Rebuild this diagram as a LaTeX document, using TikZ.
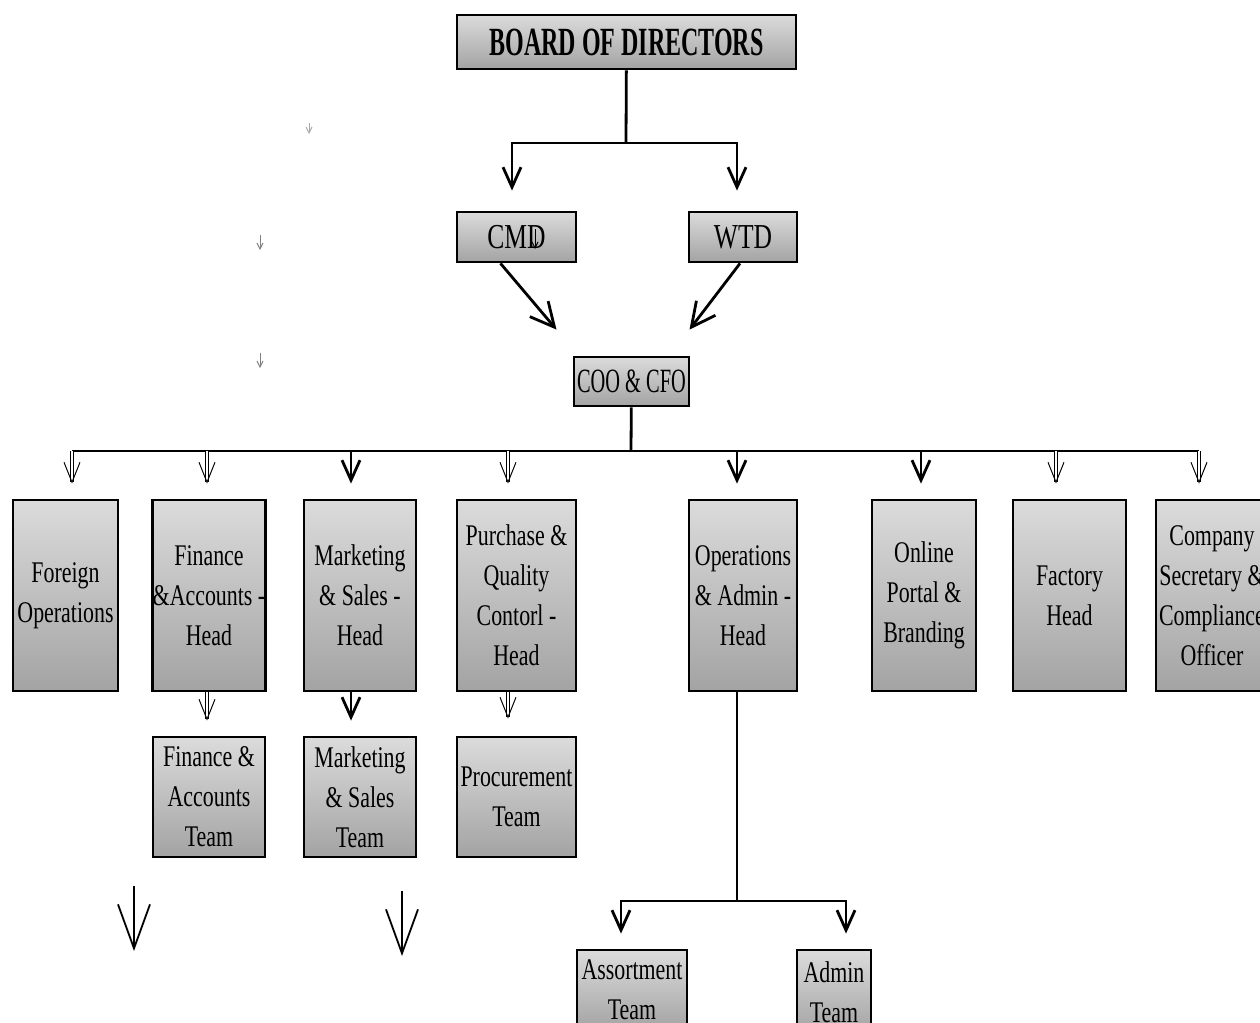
\documentclass[tikz,border=0pt]{standalone}
\usepackage{fontspec}
\setmainfont{Liberation Serif}[FakeStretch=0.73]
\newfontfamily\narrowfont{Liberation Serif}[FakeStretch=0.6]
\usetikzlibrary{arrows.meta,calc}

\begin{document}
\begin{tikzpicture}[x=0.5pt,y=-0.5pt,>={Straight Barb[length=10pt,width=9pt]},
        box/.style={draw=black,line width=1.4pt,top color=gray!28,bottom color=gray!72,
                    align=center,inner sep=0pt,font=\fontsize{15}{20}\selectfont},
        ln/.style={line width=1.4pt},
        ar/.style={->,line width=1.4pt},
        big/.style={-{Straight Barb[length=12pt,width=12pt]},line width=1.4pt},
        hl/.style={-{Straight Barb[length=10pt,width=8pt]},double,double distance=1pt,line width=0.5pt},
        stray/.style={-{Straight Barb[length=22pt,width=16pt]},line width=0.9pt},
        speck/.style={-{Straight Barb[length=3pt,width=3pt]},line width=0.5pt}]
        \useasboundingbox (0,0) rectangle (1260,1023);
        % top of the chart
        \node[box,minimum width=169.5pt,minimum height=27pt,font=\narrowfont\fontsize{20}{24}\selectfont\bfseries]
              (board) at (626.5,42) {BOARD OF DIRECTORS};
        \node[box,minimum width=59.5pt,minimum height=25pt,font=\fontsize{17.5}{20}\selectfont] (cmd) at (516.5,237) {CMD};
        \node[box,minimum width=54pt,minimum height=25pt,font=\fontsize{17.5}{20}\selectfont] (wtd) at (743,237) {WTD};
        \node[box,minimum width=57.5pt,minimum height=24.5pt,font=\narrowfont\fontsize{17}{20}\selectfont] (coo) at (631.5,381.5) {COO \& CFO};
        % heads
        \node[box,minimum width=52.5pt,minimum height=95.5pt] (fo) at (65.5,595.5) {Foreign\\Operations};
        \node[box,minimum width=56pt,minimum height=95.5pt] (fa) at (209,595.5) {Finance\\\&Accounts -\\Head};
        \node[box,minimum width=56pt,minimum height=95.5pt] (ms) at (360,595.5) {Marketing\\\& Sales -\\Head};
        \node[box,minimum width=59.5pt,minimum height=95.5pt] (pq) at (516.5,595.5) {Purchase \&\\Quality\\Contorl -\\Head};
        \node[box,minimum width=54pt,minimum height=95.5pt] (oa) at (743,595.5) {Operations\\\& Admin -\\Head};
        \node[box,minimum width=52pt,minimum height=95.5pt] (op) at (924,595.5) {Online\\Portal \&\\Branding};
        \node[box,minimum width=56.5pt,minimum height=95.5pt] (fh) at (1069.5,595.5) {Factory\\Head};
        \node[box,minimum width=56pt,minimum height=95.5pt] (cs) at (1212,595.5) {Company\\Secretary \&\\Compliance\\Officer};
        % teams
        \node[box,minimum width=56pt,minimum height=60pt] (fat) at (209,797) {Finance \&\\Accounts\\Team};
        \node[box,minimum width=56pt,minimum height=60pt] (mst) at (360,797) {Marketing\\\& Sales\\Team};
        \node[box,minimum width=59.5pt,minimum height=60pt] (pt) at (516.5,797) {Procurement\\Team};
        \node[box,minimum width=55pt,minimum height=40pt] (as) at (632,990) {Assortment\\Team};
        \node[box,minimum width=37pt,minimum height=42pt] (ad) at (834,992) {Admin\\Team};

        \coordinate (b1) at (626,143); \coordinate (c1) at (631,451);
        \coordinate (barl) at (72,451); \coordinate (barr) at (1199,451);
        \coordinate (o1) at (737,901);
        \draw[ln] (board) -- (b1);
        \draw[ar,shorten >=10pt] (b1) -| ([xshift=-2.25pt]cmd.north);
        \draw[ar,shorten >=10pt] (b1) -| ([xshift=-3pt]wtd.north);
        \draw[big] ([xshift=-8pt]cmd.south) -- ([xshift=-37.5pt,yshift=13pt]coo.north);
        \draw[big] ([xshift=-1.5pt]wtd.south) -- ([xshift=29pt,yshift=13pt]coo.north);
        \draw[ln] (coo) -- (c1); \draw[ln] (barl) -- (barr);
        \draw[hl,shorten >=7.5pt] ([xshift=3.25pt]fo.north |- c1) -- ([xshift=3.25pt]fo.north);
        \draw[hl,shorten >=7.5pt] ([xshift=-1pt]fa.north |- c1) -- ([xshift=-1pt]fa.north);
        \draw[ar,shorten >=7.5pt] ([xshift=-4.5pt]ms.north |- c1) -- ([xshift=-4.5pt]ms.north);
        \draw[hl,shorten >=7.5pt] ([xshift=-4.25pt]pq.north |- c1) -- ([xshift=-4.25pt]pq.north);
        \draw[ar,shorten >=7.5pt] ([xshift=-3pt]oa.north |- c1) -- ([xshift=-3pt]oa.north);
        \draw[ar,shorten >=7.5pt] ([xshift=-1.5pt]op.north |- c1) -- ([xshift=-1.5pt]op.north);
        \draw[hl,shorten >=7.5pt] ([xshift=-6.75pt]fh.north |- c1) -- ([xshift=-6.75pt]fh.north);
        \draw[hl,shorten >=7.5pt] ([xshift=-6.5pt]cs.north |- c1) -- ([xshift=-6.5pt]cs.north);
        % heads to teams
        \draw[hl,shorten >=7.5pt] ([xshift=-1pt]fa.south) -- ([xshift=-1pt]fat.north);
        \draw[ar,shorten >=7.5pt] ([xshift=-4.5pt]ms.south) -- ([xshift=-4.5pt]mst.north);
        \draw[hl,shorten >=8.5pt] ([xshift=-4.25pt]pq.south) -- ([xshift=-4.25pt]pt.north);
        \draw[ln] ([xshift=-3pt]oa.south) -- (o1);
        \draw[ar,shorten >=7.5pt] (o1) -| ([xshift=-5.5pt]as.north);
        \draw[ar,shorten >=7.5pt] (o1) -| ([xshift=6pt]ad.north);
        % loose arrows
        \coordinate (s1) at (134,886); \coordinate (s2) at (134,951);
        \coordinate (s3) at (402,891); \coordinate (s4) at (402,956);
        \draw[stray] (s1) -- (s2); \draw[stray] (s3) -- (s4);
        \coordinate (k1) at (309,123); \coordinate (k2) at (309,134);
        \coordinate (k3) at (260,235); \coordinate (k4) at (260,250);
        \coordinate (k5) at (260,353); \coordinate (k6) at (260,368);
        \coordinate (k7) at (535,229); \coordinate (k8) at (535,249);
        \draw[speck,gray!70] (k1) -- (k2); \draw[speck,gray] (k3) -- (k4);
        \draw[speck,gray] (k5) -- (k6); \draw[speck] (k7) -- (k8);
      \end{tikzpicture}
\end{document}
